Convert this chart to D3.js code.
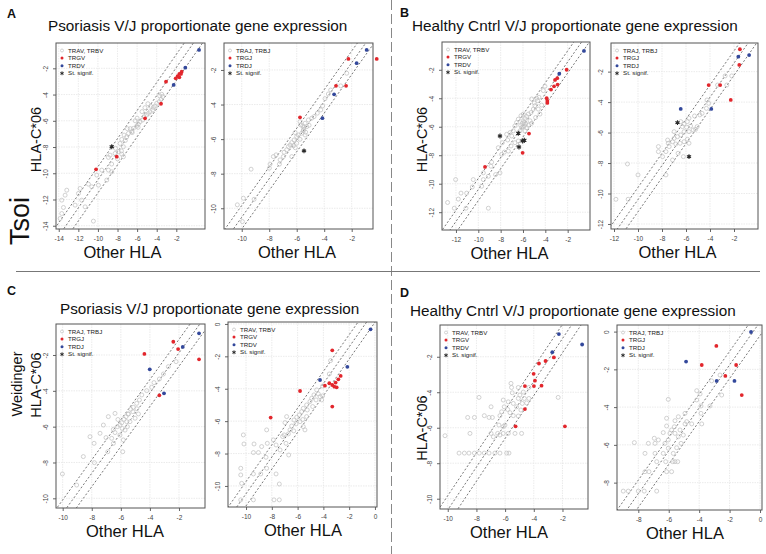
<!DOCTYPE html>
<html><head><meta charset="utf-8">
<script src="https://cdn.jsdelivr.net/npm/d3@7"></script>
<style>body{margin:0;background:#fff}svg{display:block}text{font-family:'Liberation Sans',Arial,Helvetica,sans-serif}</style>
</head><body><svg id="c" width="766" height="554"></svg>
<script>
// ---------------- DATA ----------------
const legendV = ["TRAV, TRBV","TRGV","TRDV","St. signif."];
const legendJ = ["TRAJ, TRBJ","TRGJ","TRDJ","St. signif."];
const titlePso = "Psoriasis V/J proportionate gene expression";
const titleHC = "Healthy Cntrl V/J proportionate gene expression";

const a1Ticks = {x:[-14,-12,-10,-8,-6,-4,-2], y:[-14,-12,-10,-8,-6,-4,-2]};
const a2Ticks = {x:[-10,-8,-6,-4,-2], y:[-10,-8,-6,-4,-2]};
const b1Ticks = {x:[-12,-10,-8,-6,-4,-2], y:[-12,-10,-8,-6,-4,-2]};
const b2Ticks = {x:[-12,-10,-8,-6,-4,-2], y:[-12,-10,-8,-6,-4,-2]};
const c1Ticks = {x:[-10,-8,-6,-4,-2], y:[-10,-8,-6,-4,-2]};
const c2Ticks = {x:[-10,-8,-6,-4,-2,0], y:[-10,-8,-6,-4,-2,0]};
const d1Ticks = {x:[-10,-8,-6,-4,-2], y:[-10,-8,-6,-4,-2]};
const d2Ticks = {x:[-8,-6,-4,-2,0], y:[-8,-6,-4,-2,0]};

// [x, y] = [Other HLA, HLA-C*06] log proportions
const a1Gray = [[-3.49,-3.98],[-3.39,-4.16],[-3.56,-4.37],[-3.73,-4.54],[-4.0,-4.67],[-4.17,-4.88],[-4.34,-4.98],[-4.41,-5.18],[-4.68,-5.31],[-4.85,-5.44],[-5.02,-5.56],[-5.29,-5.69],[-5.43,-5.94],[-5.7,-6.07],[-5.87,-6.25],[-6.04,-6.4],[-6.38,-6.58],[-6.55,-6.83],[-6.89,-6.96],[-7.06,-7.22],[-7.33,-7.09],[-7.57,-7.42],[-7.74,-7.73],[-7.4,-7.98],[-7.91,-8.36],[-8.25,-8.49],[-8.76,-8.62],[-8.93,-8.79],[-7.57,-8.54],[-7.4,-8.74],[-8.59,-9.89],[-8.93,-9.76],[-9.61,-9.76],[-10.12,-10.14],[-9.1,-10.52],[-9.95,-10.91],[-10.63,-11.03],[-10.97,-10.83],[-11.82,-11.16],[-11.99,-11.54],[-11.65,-12.05],[-11.31,-12.56],[-12.33,-12.43],[-13.18,-11.29],[-13.35,-11.67],[-13.69,-12.05],[-13.69,-13.07],[-13.86,-13.45],[-10.46,-13.65],[-13.52,-12.61],[-5.5,-5.3],[-5.2,-5.0],[-4.9,-4.7],[-6.2,-6.0],[-6.7,-6.6],[-4.6,-4.9],[-6.0,-5.8],[-3.7,-4.1],[-5.9,-6.5],[-6.5,-6.9],[-7.0,-6.6],[-7.2,-7.5],[-8.2,-8.1],[-8.0,-8.9],[-7.6,-8.3],[-8.6,-9.3]];
const a1Red = [[-1.45,-2.26],[-1.69,-2.43],[-1.86,-2.59],[-2.06,-2.76],[-1.69,-2.69],[-1.52,-2.43],[-3.05,-3.02],[-3.56,-4.7],[-5.19,-5.81],[-8.08,-8.74],[-10.19,-9.7]];
const a1Blue = [[0.32,-0.6],[-1.08,-1.95],[-2.27,-3.27]];
const a1Star = [[-8.59,-7.98]];

const a2Gray = [[-2.36,-2.19],[-2.8,-2.92],[-3.53,-3.16],[-3.7,-3.39],[-3.94,-3.66],[-4.11,-4.08],[-4.25,-4.31],[-4.5,-4.5],[-4.74,-4.7],[-4.91,-4.79],[-5.15,-4.89],[-5.39,-5.08],[-5.56,-5.24],[-5.76,-4.99],[-5.71,-5.18],[-5.47,-5.33],[-5.27,-5.28],[-5.52,-5.51],[-5.64,-5.66],[-5.39,-5.76],[-5.88,-5.76],[-6.12,-5.62],[-6.0,-5.85],[-5.76,-6.01],[-6.19,-6.05],[-6.36,-6.2],[-6.48,-6.34],[-6.6,-6.43],[-6.24,-6.39],[-6.0,-6.24],[-6.73,-6.62],[-6.92,-6.76],[-6.36,-7.01],[-6.97,-7.01],[-7.5,-6.91],[-7.7,-7.01],[-7.94,-7.45],[-7.99,-7.68],[-7.26,-7.45],[-7.21,-7.2],[-9.32,-7.74],[-9.88,-9.42],[-10.32,-9.8],[-9.95,-10.77],[-9.1,-9.48],[-5.5,-5.45],[-5.35,-5.6],[-6.1,-6.5],[-5.1,-5.2]];
const a2Red = [[-2.24,-1.36],[-0.18,-1.36],[-3.14,-2.92],[-2.41,-2.92],[-5.76,-4.74]];
const a2Blue = [[-0.91,-0.84],[-1.64,-1.61],[-3.28,-3.41],[-4.13,-4.79]];
const a2Star = [[-5.47,-6.68]];

const b1Gray = [[-4.03,-3.16],[-4.18,-3.46],[-4.57,-3.93],[-4.69,-4.17],[-4.93,-4.52],[-5.07,-4.76],[-5.28,-5.0],[-5.52,-5.11],[-5.67,-5.28],[-5.82,-5.42],[-5.97,-5.58],[-6.06,-5.75],[-5.88,-5.94],[-5.67,-6.06],[-6.12,-6.06],[-6.27,-6.29],[-5.82,-6.29],[-5.52,-5.89],[-5.22,-5.75],[-4.87,-5.35],[-4.48,-5.11],[-4.63,-4.76],[-4.33,-4.48],[-4.99,-4.33],[-5.37,-5.58],[-6.57,-5.7],[-6.72,-5.94],[-6.87,-6.29],[-7.16,-6.41],[-7.01,-6.65],[-7.46,-6.53],[-7.37,-6.93],[-7.85,-7.12],[-6.42,-7.0],[-6.72,-7.12],[-7.07,-7.35],[-7.67,-7.78],[-7.91,-7.94],[-7.31,-7.71],[-8.21,-7.47],[-8.81,-8.49],[-8.87,-8.77],[-8.06,-9.24],[-8.45,-9.36],[-9.1,-9.48],[-9.55,-9.71],[-9.7,-10.18],[-10.45,-9.71],[-10.54,-10.23],[-11.04,-10.66],[-11.55,-10.66],[-12.03,-9.71],[-11.79,-11.08],[-11.1,-11.72],[-12.15,-11.72],[-12.75,-11.32],[-9.1,-11.72],[-9.55,-9.24],[-5.22,-4.05],[-4.78,-4.0],[-5.97,-5.11],[-6.42,-5.47],[-6.18,-5.23],[-5.9,-5.7],[-6.0,-6.0],[-5.75,-5.8],[-6.2,-5.9]];
const b1Red = [[-2.09,-2.0],[-2.93,-2.59],[-3.13,-2.71],[-2.9,-3.04],[-3.22,-3.16],[-3.49,-3.39],[-3.88,-4.0],[-3.82,-4.19],[-3.82,-4.33],[-5.46,-6.48],[-6.03,-7.83],[-9.4,-8.82]];
const b1Blue = [[-0.54,-0.68],[-2.75,-2.28]];
const b1Star = [[-6.42,-6.46],[-8.06,-6.65],[-5.88,-6.95],[-6.03,-7.0],[-6.36,-7.42]];

const b2Gray = [[-2.74,-2.28],[-2.19,-2.28],[-3.37,-2.88],[-2.6,-2.88],[-4.25,-3.86],[-4.11,-4.08],[-4.3,-4.41],[-4.66,-4.74],[-4.85,-4.84],[-5.29,-4.91],[-5.75,-5.06],[-5.89,-5.28],[-6.16,-5.44],[-6.3,-5.61],[-5.95,-5.65],[-5.62,-5.57],[-5.07,-5.61],[-5.4,-5.83],[-5.75,-5.94],[-6.16,-5.94],[-6.44,-6.16],[-6.71,-6.27],[-6.99,-6.38],[-7.12,-6.6],[-6.85,-6.75],[-6.49,-6.7],[-6.16,-6.6],[-5.89,-6.44],[-5.75,-6.7],[-7.4,-6.92],[-7.67,-7.25],[-7.95,-7.58],[-8.3,-7.25],[-8.3,-6.92],[-7.48,-6.7],[-6.99,-5.94],[-6.44,-5.28],[-7.53,-6.49],[-7.12,-7.8],[-6.22,-7.58],[-6.66,-7.36],[-10.88,-8.06],[-10.0,-8.78],[-10.82,-10.38],[-11.84,-10.38],[-7.67,-8.78],[-5.2,-5.79]];
const b2Red = [[-1.51,-0.53],[-1.56,-1.56],[-4.11,-2.88],[-3.15,-2.88],[-2.27,-3.86]];
const b2Blue = [[-0.74,-0.91],[-1.64,-1.02],[-6.44,-4.45],[-3.89,-4.45]];
const b2Star = [[-6.71,-5.35],[-5.75,-7.58]];

const c1Gray = [[-2.2,-2.37],[-2.73,-2.65],[-3.07,-3.06],[-3.35,-3.34],[-3.72,-3.54],[-3.88,-3.8],[-4.22,-3.99],[-4.56,-4.23],[-4.72,-4.51],[-4.91,-4.7],[-5.14,-4.92],[-5.18,-5.16],[-5.32,-5.03],[-5.48,-5.29],[-5.64,-5.44],[-5.78,-5.59],[-5.6,-5.72],[-5.94,-5.78],[-6.06,-5.91],[-6.24,-6.0],[-6.51,-6.15],[-6.4,-6.33],[-6.06,-6.47],[-5.71,-6.19],[-5.55,-6.0],[-5.37,-5.72],[-5.02,-5.53],[-4.79,-5.29],[-6.86,-5.44],[-7.2,-5.91],[-7.43,-6.37],[-7.02,-6.61],[-6.9,-7.4],[-5.87,-7.4],[-6.51,-6.93],[-6.63,-6.65],[-7.82,-8.01],[-7.84,-6.93],[-8.12,-6.56],[-8.58,-7.67],[-9.04,-9.26],[-10.02,-8.64],[-6.4,-5.26],[-5.83,-6.74],[-5.9,-6.1],[-6.2,-5.6],[-5.5,-5.3],[-4.9,-5.0]];
const c1Red = [[-2.39,-1.26],[-2.06,-1.67],[-4.38,-1.94],[-0.62,-2.24],[-3.35,-4.25]];
const c1Blue = [[-0.62,-0.79],[-1.74,-1.55],[-4.01,-2.8],[-3.03,-4.14]];
const c1Star = [];

const c2Gray = [[-3.44,-2.26],[-3.54,-3.09],[-4.06,-3.83],[-4.52,-4.07],[-4.73,-4.38],[-4.91,-4.59],[-4.57,-4.69],[-4.26,-4.49],[-4.06,-4.44],[-5.04,-4.79],[-5.3,-5.0],[-5.56,-5.21],[-5.25,-5.31],[-5.68,-5.41],[-5.87,-5.62],[-6.07,-5.76],[-6.28,-5.93],[-5.81,-6.03],[-6.12,-6.17],[-6.46,-6.3],[-5.56,-6.34],[-6.59,-6.54],[-6.72,-6.79],[-7.05,-6.85],[-6.9,-7.37],[-6.69,-8.09],[-7.36,-7.78],[-7.67,-7.47],[-7.88,-7.16],[-8.35,-7.37],[-8.79,-7.57],[-8.4,-6.54],[-9.04,-7.94],[-9.38,-7.41],[-10.21,-6.85],[-10.16,-7.41],[-9.43,-7.94],[-8.45,-8.23],[-8.86,-9.26],[-9.43,-9.26],[-10.41,-8.91],[-10.41,-9.32],[-10.34,-9.84],[-10.41,-10.86],[-9.43,-10.86],[-7.83,-10.86],[-7.42,-10.86],[-7.42,-9.88],[-7.67,-9.26],[-8.4,-8.91],[-7.16,-6.95],[-6.85,-5.72],[-6.98,-6.09],[-5.43,-6.54],[-5.3,-5.72],[-4.83,-5.1],[-4.39,-4.32],[-4.13,-4.69],[-5.6,-5.9],[-6.3,-6.6]];
const c2Red = [[-3.31,-1.63],[-3.88,-3.81],[-3.54,-3.66],[-3.31,-3.77],[-3.05,-3.62],[-2.84,-3.42],[-2.66,-3.21],[-2.97,-3.91],[-3.15,-3.87],[-5.81,-4.14],[-3.31,-5.1],[-8.09,-5.78]];
const c2Blue = [[-0.34,-0.33],[-2.14,-2.65],[-4.26,-3.46]];
const c2Star = [];

const d1Gray = [[-5.59,-3.5],[-5.55,-3.73],[-5.08,-3.73],[-5.5,-4.03],[-4.73,-3.99],[-4.34,-3.73],[-5.08,-4.35],[-5.43,-4.63],[-5.2,-4.82],[-4.8,-4.63],[-4.66,-4.35],[-4.97,-4.16],[-4.34,-4.35],[-2.3,-4.29],[-5.78,-4.54],[-6.13,-4.44],[-6.06,-4.82],[-5.82,-4.97],[-6.24,-5.1],[-6.36,-5.32],[-6.98,-4.82],[-7.45,-5.32],[-7.12,-5.42],[-6.89,-5.42],[-5.43,-5.32],[-5.08,-5.34],[-5.66,-5.15],[-7.82,-4.29],[-8.61,-5.42],[-8.14,-5.42],[-6.43,-5.85],[-6.01,-5.85],[-6.52,-6.32],[-6.98,-6.32],[-6.82,-6.51],[-6.13,-6.32],[-5.78,-6.32],[-5.31,-6.32],[-4.85,-6.32],[-6.36,-6.41],[-8.45,-6.32],[-10.19,-6.45],[-9.21,-7.43],[-8.84,-7.43],[-8.52,-7.43],[-8.14,-7.43],[-7.8,-7.43],[-7.45,-7.43],[-7.12,-7.43],[-6.71,-7.43],[-6.36,-7.43],[-5.89,-7.43],[-5.73,-7.43],[-6.13,-5.94],[-4.9,-5.0],[-4.5,-4.6]];
const d1Red = [[-2.6,-2.04],[-3.18,-2.24],[-3.64,-2.38],[-4.01,-2.96],[-3.92,-3.35],[-4.62,-3.65],[-3.99,-3.65],[-3.46,-3.63],[-4.62,-4.95],[-5.27,-5.92],[-1.83,-5.92]];
const d1Blue = [[-2.25,-0.72],[-0.63,-1.31],[-2.71,-1.74]];
const d1Star = [];

const d2Gray = [[-2.63,-2.3],[-3.18,-2.61],[-4.16,-3.13],[-3.94,-3.3],[-4.16,-3.62],[-2.52,-3.36],[-3.29,-3.94],[-3.88,-3.94],[-3.88,-4.33],[-4.93,-4.33],[-5.37,-4.51],[-6.03,-3.59],[-6.14,-4.59],[-5.59,-4.72],[-4.82,-4.77],[-3.83,-4.89],[-4.93,-4.89],[-5.63,-5.04],[-5.81,-5.21],[-6.14,-5.0],[-5.92,-5.39],[-6.36,-5.35],[-5.59,-5.39],[-5.37,-5.57],[-5.04,-5.48],[-6.03,-5.74],[-6.68,-5.74],[-6.25,-5.92],[-6.9,-5.92],[-7.34,-5.92],[-8.26,-5.88],[-6.95,-5.65],[-5.19,-5.92],[-5.48,-6.15],[-6.03,-6.18],[-6.36,-6.45],[-5.7,-6.45],[-6.9,-6.45],[-7.56,-6.45],[-6.2,-6.89],[-5.74,-6.89],[-5.59,-6.89],[-5.41,-6.89],[-6.79,-6.89],[-7.56,-7.42],[-7.3,-7.42],[-6.14,-7.42],[-5.81,-7.42],[-8.99,-8.45],[-8.66,-8.45],[-8.0,-8.45],[-7.61,-8.45],[-6.79,-8.45],[-5.26,-5.21],[-4.49,-4.89]];
const d2Red = [[-2.87,-0.76],[-3.83,-1.77],[-1.57,-1.77],[-2.28,-2.35],[-1.2,-3.36]];
const d2Blue = [[-0.59,-0.02],[-4.86,-1.59],[-2.85,-2.61],[-1.68,-2.61]];
const d2Star = [];

// reference lines: y = intercept + slope*x, +/- offset
const a1Diag = {slope:1.07, intercept:0.2, offset:1.0};
const a2Diag = {slope:1.117, intercept:0.65, offset:0.68};
const b1Diag = {slope:1.12, intercept:0.79, offset:0.78};
const b2Diag = {slope:1.12, intercept:0.8, offset:0.8};
const c1Diag = {slope:1.12, intercept:0.36, offset:0.75};
const c2Diag = {slope:1.133, intercept:0.85, offset:0.75};
const d1Diag = {slope:1.207, intercept:1.44, offset:0.8};
const d2Diag = {slope:1.137, intercept:0.51, offset:0.72};

// ---------------- LAYOUT ----------------
const layout = {
  a1:{box:[56,43,205,229], xd:[-14.28,0.93], yd:[-14.25,-0.07], xt:122.5},
  a2:{box:[224,43,373,229], xd:[-11.29,-0.45], yd:[-11.2,-0.44], xt:297},
  b1:{box:[442,42,590,230], xd:[-13.25,0.0], yd:[-13.25,-0.05], xt:509.5},
  b2:{box:[611,43,758,229], xd:[-12.25,0.0], yd:[-12.33,-0.12], xt:677.5},
  c1:{box:[56,324,205,508], xd:[-10.46,-0.21], yd:[-10.54,-0.27], xt:125},
  c2:{box:[228,322,377,507], xd:[-11.4,0.16], yd:[-11.3,0.12], xt:303},
  d1:{box:[440,325,588,509], xd:[-10.54,-0.22], yd:[-10.58,-0.21], xt:509},
  d2:{box:[617,325,762,510], xd:[-9.4,0.13], yd:[-9.45,0.35], xt:685}
};
const COL = {gray:'#c2c2c2', red:'#e2262c', blue:'#33489b', star:'#2a2a2a', box:'#555', grid:'#e6e6e6', tick:'#444'};

const svg = d3.select('#c');
const defs = svg.append('defs');
let clipN = 0;

function panel(L, ticks, gray, red, blue, star, legend, diag){
  const [x0,y0,x1,y1] = L.box;
  const x = d3.scaleLinear().domain(L.xd).range([x0,x1]);
  const y = d3.scaleLinear().domain(L.yd).range([y1,y0]);
  const g = svg.append('g');
  const id = 'clip'+(clipN++);
  defs.append('clipPath').attr('id',id).append('rect').attr('x',x0).attr('y',y0).attr('width',x1-x0).attr('height',y1-y0);
  // grid
  g.append('g').selectAll('line').data(ticks.x).join('line')
    .attr('x1',d=>x(d)).attr('x2',d=>x(d)).attr('y1',y0).attr('y2',y1)
    .attr('stroke',COL.grid).attr('stroke-width',0.8).attr('stroke-dasharray','1.5,1');
  g.append('g').selectAll('line').data(ticks.y).join('line')
    .attr('y1',d=>y(d)).attr('y2',d=>y(d)).attr('x1',x0).attr('x2',x1)
    .attr('stroke',COL.grid).attr('stroke-width',0.8).attr('stroke-dasharray','1.5,1');
  // diagonal lines
  const dg = g.append('g').attr('clip-path',`url(#${id})`);
  [diag.offset,0,-diag.offset].forEach(o=>{
    const xs = [L.xd[0]-2, L.xd[1]+2];
    dg.append('line')
      .attr('x1',x(xs[0])).attr('y1',y(diag.intercept+o+diag.slope*xs[0]))
      .attr('x2',x(xs[1])).attr('y2',y(diag.intercept+o+diag.slope*xs[1]))
      .attr('stroke','#555').attr('stroke-width',0.8).attr('stroke-dasharray','2,2');
  });
  // axes
  const ax = g.append('g').attr('transform',`translate(0,${y1})`)
    .call(d3.axisBottom(x).tickValues(ticks.x).tickSize(3).tickPadding(4).tickFormat(d=>String(d)));
  ax.select('.domain').remove();
  ax.selectAll('line').attr('stroke','#666');
  ax.selectAll('text').attr('font-size',6.5).attr('fill',COL.tick).attr('font-family',null);
  const ay = g.append('g').attr('transform',`translate(${x0},0)`)
    .call(d3.axisLeft(y).tickValues(ticks.y).tickSize(3).tickPadding(4).tickFormat(d=>String(d)));
  ay.select('.domain').remove();
  ay.selectAll('line').attr('stroke','#666');
  ay.selectAll('text').attr('font-size',6.5).attr('fill',COL.tick).attr('font-family',null)
    .attr('text-anchor','middle').attr('x',0).attr('y',-8.5).attr('dy',0).attr('transform','rotate(-90)');
  // box
  g.append('rect').attr('x',x0).attr('y',y0).attr('width',x1-x0).attr('height',y1-y0)
    .attr('fill','none').attr('stroke',COL.box).attr('stroke-width',1);
  // points
  g.append('g').selectAll('circle').data(gray).join('circle')
    .attr('cx',d=>x(d[0])).attr('cy',d=>y(d[1])).attr('r',2)
    .attr('fill','none').attr('stroke',COL.gray).attr('stroke-width',0.75);
  g.append('g').selectAll('circle').data(red).join('circle')
    .attr('cx',d=>x(d[0])).attr('cy',d=>y(d[1])).attr('r',1.9).attr('fill',COL.red);
  g.append('g').selectAll('circle').data(blue).join('circle')
    .attr('cx',d=>x(d[0])).attr('cy',d=>y(d[1])).attr('r',1.9).attr('fill',COL.blue);
  const starSym = d3.symbol(d3.symbolAsterisk, 16);
  const sg = g.append('g').selectAll('g').data(star).join('g')
    .attr('transform',d=>`translate(${x(d[0])},${y(d[1])})`);
  sg.append('circle').attr('r',1.3).attr('fill',COL.star);
  sg.append('path').attr('d',starSym).attr('stroke',COL.star).attr('stroke-width',1.1).attr('fill','none');
  // legend
  const lg = g.append('g').attr('transform',`translate(${x0+6},${y0+7.5})`);
  legend.forEach((t,i)=>{
    const yy = i*7.6;
    if(i===0) lg.append('circle').attr('cx',0).attr('cy',yy).attr('r',1.5).attr('fill','none').attr('stroke',COL.gray).attr('stroke-width',0.7);
    if(i===1) lg.append('circle').attr('cx',0).attr('cy',yy).attr('r',1.5).attr('fill',COL.red);
    if(i===2) lg.append('circle').attr('cx',0).attr('cy',yy).attr('r',1.5).attr('fill',COL.blue);
    if(i===3) lg.append('path').attr('transform',`translate(0,${yy})`).attr('d',d3.symbol(d3.symbolAsterisk,10)).attr('stroke',COL.star).attr('stroke-width',1).attr('fill','none');
    lg.append('text').attr('x',6).attr('y',yy+2.1).attr('font-size',6.2).attr('fill','#222').text(t);
  });
  // x title
  g.append('text').attr('x',L.xt).attr('y',y1+28.5).attr('text-anchor','middle')
    .attr('font-size',16.5).attr('fill','#111').text('Other HLA');
}

panel(layout.a1, a1Ticks, a1Gray, a1Red, a1Blue, a1Star, legendV, a1Diag);
panel(layout.a2, a2Ticks, a2Gray, a2Red, a2Blue, a2Star, legendJ, a2Diag);
panel(layout.b1, b1Ticks, b1Gray, b1Red, b1Blue, b1Star, legendV, b1Diag);
panel(layout.b2, b2Ticks, b2Gray, b2Red, b2Blue, b2Star, legendJ, b2Diag);
panel(layout.c1, c1Ticks, c1Gray, c1Red, c1Blue, c1Star, legendJ, c1Diag);
panel(layout.c2, c2Ticks, c2Gray, c2Red, c2Blue, c2Star, legendV, c2Diag);
panel(layout.d1, d1Ticks, d1Gray, d1Red, d1Blue, d1Star, legendV, d1Diag);
panel(layout.d2, d2Ticks, d2Gray, d2Red, d2Blue, d2Star, legendJ, d2Diag);

// separators
svg.append('line').attr('x1',391.5).attr('x2',391.5).attr('y1',0).attr('y2',554)
  .attr('stroke','#888').attr('stroke-width',1).attr('stroke-dasharray','10,4');
svg.append('line').attr('x1',16).attr('x2',760).attr('y1',271.5).attr('y2',271.5)
  .attr('stroke','#777').attr('stroke-width',1);

// titles and labels
const T = (x,y,txt,size,opts={})=>{
  const t = svg.append('text').attr('x',x).attr('y',y).attr('font-size',size).attr('fill','#111').text(txt);
  if(opts.bold) t.attr('font-weight','bold');
  if(opts.anchor) t.attr('text-anchor',opts.anchor);
  if(opts.rot) t.attr('transform',`rotate(-90,${x},${y})`);
  return t;
};
T(7,18,'A',12.5,{bold:true});
T(400,17,'B',12.5,{bold:true});
T(7,295,'C',12.5,{bold:true});
T(400,297,'D',12.5,{bold:true});
T(48,31,titlePso,15.3);
T(412,31,titleHC,15.3);
T(60,314,titlePso,15.3);
T(410,316,titleHC,15.3);
T(41,139.5,'HLA-C*06',14.5,{anchor:'middle',rot:true});
T(427,139.5,'HLA-C*06',14.5,{anchor:'middle',rot:true});
T(41,385,'HLA-C*06',14.5,{anchor:'middle',rot:true});
T(22,384,'Weidinger',14.5,{anchor:'middle',rot:true});
T(427,428,'HLA-C*06',14.5,{anchor:'middle',rot:true});
T(29,221,'Tsoi',27,{anchor:'middle',rot:true});
</script></body></html>
